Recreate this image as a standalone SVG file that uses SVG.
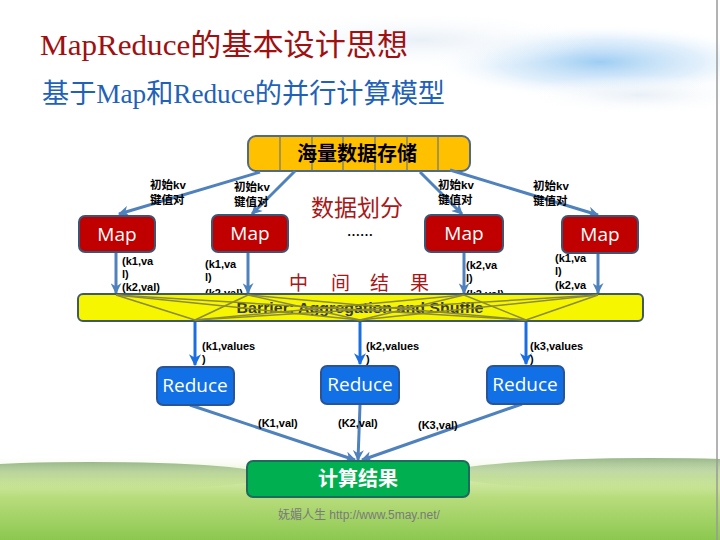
<svg xmlns="http://www.w3.org/2000/svg" width="720" height="540" viewBox="0 0 720 540">
<defs>
  <radialGradient id="cloud" cx="0.5" cy="0.5" r="0.5">
    <stop offset="0" stop-color="#8cc4f0" stop-opacity="0.85"/>
    <stop offset="0.6" stop-color="#c4e0f8" stop-opacity="0.5"/>
    <stop offset="1" stop-color="#ffffff" stop-opacity="0"/>
  </radialGradient>
  <radialGradient id="cloud2" cx="0.5" cy="0.5" r="0.5">
    <stop offset="0" stop-color="#e6eef6" stop-opacity="0.9"/>
    <stop offset="1" stop-color="#ffffff" stop-opacity="0"/>
  </radialGradient>
  <linearGradient id="grass" x1="0" y1="0" x2="0" y2="1">
    <stop offset="0" stop-color="#ffffff" stop-opacity="0"/>
    <stop offset="0.25" stop-color="#d8ecb0"/>
    <stop offset="0.5" stop-color="#b8dc7c"/>
    <stop offset="1" stop-color="#8cc850"/>
  </linearGradient>
  <linearGradient id="hill" x1="0" y1="0" x2="0" y2="1">
    <stop offset="0" stop-color="#6e9a58" stop-opacity="0.7"/>
    <stop offset="1" stop-color="#a8d070" stop-opacity="0"/>
  </linearGradient>
  <marker id="ah" viewBox="0 0 10 10" refX="9" refY="5" markerWidth="11" markerHeight="11" markerUnits="userSpaceOnUse" orient="auto">
    <path d="M0,0 L10,5 L0,10 L3,5 Z" fill="#4f81bd"/>
  </marker>
  <marker id="ahb" viewBox="0 0 10 10" refX="9" refY="5" markerWidth="12" markerHeight="12" markerUnits="userSpaceOnUse" orient="auto">
    <path d="M0,0 L10,5 L0,10 L3,5 Z" fill="#1a6ee0"/>
  </marker>
</defs>
<style>
  .map rect { fill:#c00000; stroke:#3d5573; stroke-width:2; }
  .red rect { fill:#1170e6; stroke:#2a5498; stroke-width:2; }
  .ntxt { font-family:"Open Sans","Liberation Sans",sans-serif; font-size:19px; fill:#ffffff; text-anchor:middle; }
  .lbl { font-family:"Liberation Sans","Noto Sans CJK SC",sans-serif; font-size:11px; font-weight:bold; fill:#000; }
  .cn { font-family:"Liberation Sans","Noto Sans CJK SC",sans-serif; font-size:11.5px; font-weight:bold; fill:#000; }
  .conn line { stroke:#4f81bd; stroke-width:3; }
  .conn line.rb { stroke:#1a6ee0; }
  .cross line { stroke:#8a8a3a; stroke-width:1.5; }
  .dr { font-family:"Noto Sans CJK SC",sans-serif; fill:#a81818; }
</style>

<!-- background -->
<rect x="0" y="0" width="720" height="540" fill="#ffffff"/>
<ellipse cx="600" cy="62" rx="170" ry="38" fill="url(#cloud)"/>
<ellipse cx="420" cy="40" rx="180" ry="30" fill="url(#cloud2)"/>
<ellipse cx="640" cy="95" rx="120" ry="20" fill="url(#cloud2)"/>
<rect x="0" y="455" width="720" height="85" fill="url(#grass)"/>
<ellipse cx="90" cy="476" rx="180" ry="14" fill="url(#hill)"/>
<ellipse cx="650" cy="474" rx="200" ry="16" fill="url(#hill)"/>
<line x1="717" y1="0" x2="717" y2="540" stroke="#9a9a9a" stroke-width="1.5"/>

<!-- titles -->
<text x="40" y="55" font-family="'Liberation Serif','Noto Sans CJK SC',serif" font-size="30" fill="#a01010" textLength="368" lengthAdjust="spacingAndGlyphs">MapReduce的基本设计思想</text>
<text x="42" y="103" font-family="'Liberation Serif','Noto Sans CJK SC',serif" font-size="27" fill="#1f62b8" textLength="403" lengthAdjust="spacingAndGlyphs">基于Map和Reduce的并行计算模型</text>

<!-- storage -->
<g id="storage">
  <rect x="248" y="136" width="222" height="35" rx="8" fill="#ffc000" stroke="#4e6a8c" stroke-width="2"/>
  <g stroke="#4e6a8c" stroke-width="1">
    <line x1="280" y1="137" x2="280" y2="170"/>
    <line x1="312" y1="137" x2="312" y2="170"/>
    <line x1="343" y1="137" x2="343" y2="170"/>
    <line x1="375" y1="137" x2="375" y2="170"/>
    <line x1="407" y1="137" x2="407" y2="170"/>
    <line x1="438" y1="137" x2="438" y2="170"/>
  </g>
  <text x="357" y="161" font-family="'Noto Sans CJK SC',sans-serif" font-size="20" font-weight="bold" fill="#000" text-anchor="middle">海量数据存储</text>
</g>

<!-- connectors -->
<g class="conn" id="connectors">
  <line x1="260" y1="172" x2="119" y2="214" marker-end="url(#ah)"/>
  <line x1="295" y1="171" x2="252" y2="214" marker-end="url(#ah)"/>
  <line x1="420" y1="172" x2="462" y2="214" marker-end="url(#ah)"/>
  <line x1="450" y1="170" x2="598" y2="215" marker-end="url(#ah)"/>
  <line x1="116" y1="253" x2="116" y2="293" marker-end="url(#ah)"/>
  <line x1="248" y1="253" x2="248" y2="293" marker-end="url(#ah)"/>
  <line x1="464" y1="253" x2="464" y2="293" marker-end="url(#ah)"/>
  <line x1="598" y1="254" x2="598" y2="293" marker-end="url(#ah)"/>
  <line class="rb" x1="195" y1="321" x2="195" y2="365" marker-end="url(#ahb)"/>
  <line class="rb" x1="360" y1="321" x2="360" y2="364" marker-end="url(#ahb)"/>
  <line class="rb" x1="526" y1="321" x2="526" y2="364" marker-end="url(#ahb)"/>
  <line x1="190" y1="405" x2="355" y2="460" marker-end="url(#ah)"/>
  <line x1="360" y1="405" x2="358" y2="460" marker-end="url(#ah)"/>
  <line x1="522" y1="404" x2="362" y2="460" marker-end="url(#ah)"/>
</g>

<!-- kv labels -->
<text class="cn" x="150" y="189">初始kv</text>
<text class="cn" x="150" y="204">键值对</text>
<text class="cn" x="234" y="191">初始kv</text>
<text class="cn" x="234" y="206">键值对</text>
<text class="cn" x="438" y="189">初始kv</text>
<text class="cn" x="438" y="204">键值对</text>
<text class="cn" x="533" y="190">初始kv</text>
<text class="cn" x="533" y="205">键值对</text>

<text class="dr" x="311" y="216" font-size="23">数据划分</text>
<text x="347" y="240" font-family="'Noto Sans CJK SC',sans-serif" font-size="13" font-weight="bold" fill="#000">……</text>

<!-- maps -->
<g id="map1" class="map"><rect x="79" y="216" width="76" height="36" rx="6"/><text class="ntxt" x="117" y="241">Map</text></g>
<g id="map2" class="map"><rect x="212" y="215" width="76" height="37" rx="6"/><text class="ntxt" x="250" y="240">Map</text></g>
<g id="map3" class="map"><rect x="425" y="215" width="78" height="37" rx="6"/><text class="ntxt" x="464" y="240">Map</text></g>
<g id="map4" class="map"><rect x="562" y="216" width="76" height="37" rx="6"/><text class="ntxt" x="600" y="241">Map</text></g>

<!-- map output labels -->
<text class="lbl" x="122" y="265">(k1,va</text>
<text class="lbl" x="122" y="278">l)</text>
<text class="lbl" x="122" y="291">(k2,val)</text>
<text class="lbl" x="205" y="268">(k1,va</text>
<text class="lbl" x="205" y="281">l)</text>
<text class="lbl" x="205" y="297">(k2,val)</text>
<text class="lbl" x="466" y="269">(k2,va</text>
<text class="lbl" x="466" y="282">l)</text>
<text class="lbl" x="466" y="298">(k2,val)</text>
<text class="lbl" x="555" y="262">(k1,va</text>
<text class="lbl" x="555" y="275">l)</text>
<text class="lbl" x="555" y="289">(k2,va</text>

<text class="dr" x="289" y="290" font-size="19">中</text>
<text class="dr" x="331" y="290" font-size="19">间</text>
<text class="dr" x="370" y="290" font-size="19">结</text>
<text class="dr" x="410" y="290" font-size="19">果</text>

<!-- barrier -->
<g id="barrier">
  <rect x="78" y="294" width="565" height="27" rx="5" fill="#f6f600" stroke="#3e5a68" stroke-width="2"/>
  <text x="360" y="313" font-family="'Liberation Sans',sans-serif" font-size="15" font-weight="bold" fill="#3a3a2a" text-anchor="middle" textLength="247" lengthAdjust="spacingAndGlyphs">Barrier: Aggregation and Shuffle</text>
  <g class="cross">
    <line x1="116" y1="295" x2="195" y2="320"/>
    <line x1="116" y1="295" x2="360" y2="320"/>
    <line x1="116" y1="295" x2="526" y2="320"/>
    <line x1="248" y1="295" x2="195" y2="320"/>
    <line x1="248" y1="295" x2="360" y2="320"/>
    <line x1="248" y1="295" x2="526" y2="320"/>
    <line x1="464" y1="295" x2="195" y2="320"/>
    <line x1="464" y1="295" x2="360" y2="320"/>
    <line x1="464" y1="295" x2="526" y2="320"/>
    <line x1="598" y1="295" x2="195" y2="320"/>
    <line x1="598" y1="295" x2="360" y2="320"/>
    <line x1="598" y1="295" x2="526" y2="320"/>
  </g>
</g>

<!-- reduce labels -->
<text class="lbl" x="202" y="350">(k1,values</text>
<text class="lbl" x="202" y="363">)</text>
<text class="lbl" x="366" y="350">(k2,values</text>
<text class="lbl" x="366" y="363">)</text>
<text class="lbl" x="530" y="350">(k3,values</text>
<text class="lbl" x="530" y="363">)</text>

<!-- reduces -->
<g id="reduce1" class="red"><rect x="157" y="367" width="77" height="38" rx="6"/><text class="ntxt" x="195" y="392">Reduce</text></g>
<g id="reduce2" class="red"><rect x="321" y="366" width="78" height="38" rx="6"/><text class="ntxt" x="360" y="391">Reduce</text></g>
<g id="reduce3" class="red"><rect x="487" y="366" width="77" height="38" rx="6"/><text class="ntxt" x="525" y="391">Reduce</text></g>

<text class="lbl" x="258" y="427">(K1,val)</text>
<text class="lbl" x="338" y="427">(K2,val)</text>
<text class="lbl" x="418" y="429">(K3,val)</text>

<!-- result -->
<g id="result">
  <rect x="247" y="461" width="222" height="36" rx="6" fill="#00b050" stroke="#1f6a5c" stroke-width="2"/>
  <text x="358" y="486" font-family="'Noto Sans CJK SC',sans-serif" font-size="20" font-weight="bold" fill="#ffffff" text-anchor="middle">计算结果</text>
</g>

<text x="278" y="519" font-family="'Liberation Sans','Noto Sans CJK SC',sans-serif" font-size="12" fill="#7a7a7a">妩媚人生  http://www.5may.net/</text>
</svg>
